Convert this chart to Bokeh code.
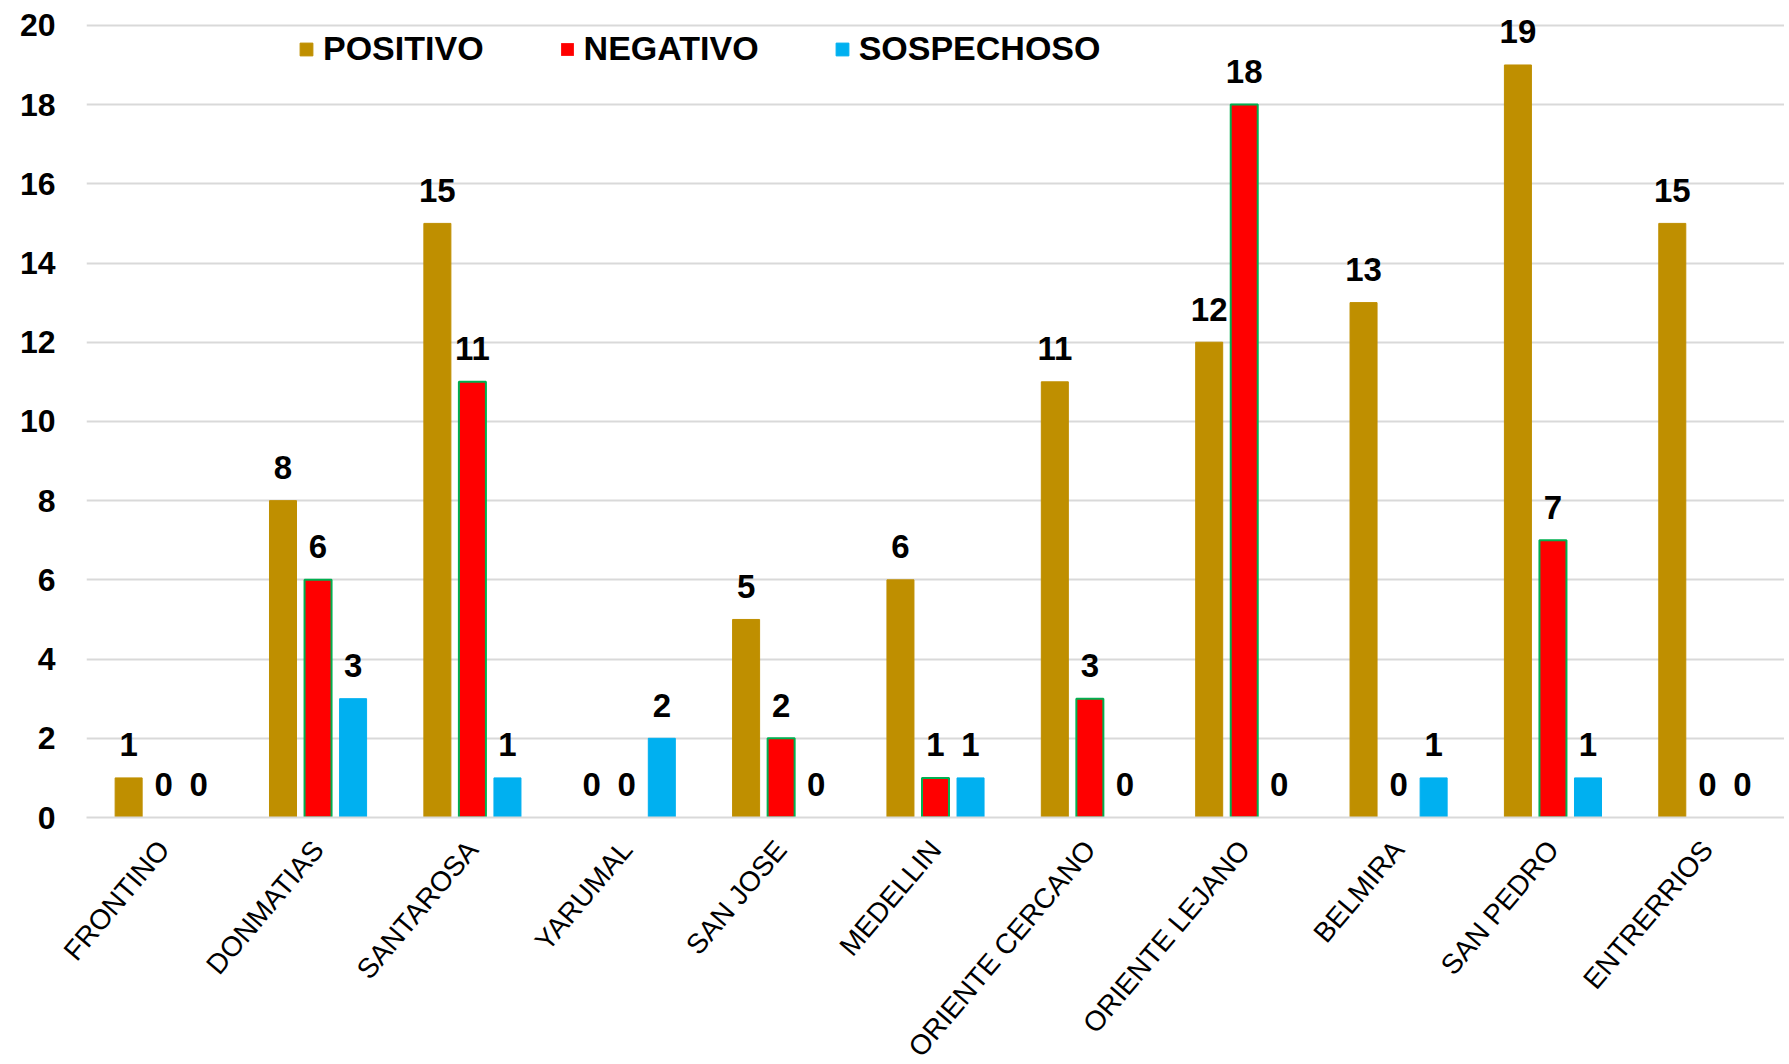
from bokeh.plotting import figure
from bokeh.models import (ColumnDataSource, FactorRange, Range1d, Legend, LegendItem,
                          SingleIntervalTicker)
from bokeh.transform import dodge
from bokeh.core.properties import value
from bokeh.embed import file_html
from bokeh.resources import INLINE

categories = ["FRONTINO", "DONMATIAS", "SANTAROSA", "YARUMAL", "SAN JOSE", "MEDELLIN",
              "ORIENTE CERCANO", "ORIENTE LEJANO", "BELMIRA", "SAN PEDRO", "ENTRERRIOS"]
positivo = [1, 8, 15, 0, 5, 6, 11, 12, 13, 19, 15]
negativo = [0, 6, 11, 0, 2, 1, 3, 18, 0, 7, 0]
sospechoso = [0, 3, 1, 2, 0, 1, 0, 0, 1, 1, 0]
series_names = ["POSITIVO", "NEGATIVO", "SOSPECHOSO"]

FONT = "Liberation Sans"
C_POS, C_NEG, C_NEG_LINE, C_SOS = "#BF8F00", "#FF0000", "#00B050", "#00B0F0"

source = ColumnDataSource(dict(
    cats=categories,
    positivo=positivo, negativo=negativo, sospechoso=sospechoso,
    pos_lbl=[str(v) for v in positivo],
    neg_lbl=[str(v) for v in negativo],
    sos_lbl=[str(v) for v in sospechoso],
    neg_line=[C_NEG_LINE if v > 0 else "rgba(0,0,0,0)" for v in negativo],
))

p = figure(x_range=FactorRange(*categories), y_range=Range1d(0, 20.35),
           frame_width=1698, frame_height=806, output_backend="svg", toolbar_location=None,
           min_border_left=86, min_border_right=0, min_border_top=11, min_border_bottom=242)

OFF = 0.227
W = 0.175
r1 = p.vbar(x=dodge("cats", -OFF, range=p.x_range), top="positivo", width=W, source=source,
            fill_color=C_POS, line_color=C_POS, line_width=1)
r2 = p.vbar(x=dodge("cats", 0, range=p.x_range), top="negativo", width=W, source=source,
            fill_color=C_NEG, line_color="neg_line", line_width=2)
r3 = p.vbar(x=dodge("cats", OFF, range=p.x_range), top="sospechoso", width=W, source=source,
            fill_color=C_SOS, line_color=C_SOS, line_width=1)

for off, col, lbl in [(-OFF, "positivo", "pos_lbl"), (0, "negativo", "neg_lbl"), (OFF, "sospechoso", "sos_lbl")]:
    p.text(x=dodge("cats", off, range=p.x_range), y=col, text=lbl, source=source,
           text_align="center", text_baseline="alphabetic", y_offset=-33,
           text_font=value(FONT), text_font_style="bold", text_font_size="33px",
           text_color="black")

legend = Legend(items=[LegendItem(label=series_names[0], renderers=[r1]),
                       LegendItem(label=series_names[1], renderers=[r2]),
                       LegendItem(label=series_names[2], renderers=[r3])],
                orientation="horizontal", location=(212, 749),
                glyph_width=16, glyph_height=16, label_standoff=9, spacing=75,
                padding=0, margin=0, border_line_alpha=0, background_fill_alpha=0,
                label_text_font=FONT, label_text_font_style="bold",
                label_text_font_size="34px", label_text_color="black")
p.add_layout(legend, "center")

p.yaxis.ticker = SingleIntervalTicker(interval=2)
p.yaxis.axis_line_color = None
p.yaxis.major_tick_line_color = None
p.yaxis.minor_tick_line_color = None
p.yaxis.major_tick_out = 0
p.yaxis.major_label_standoff = 27
p.yaxis.major_label_text_font = FONT
p.yaxis.major_label_text_font_style = "bold"
p.yaxis.major_label_text_font_size = "32px"
p.yaxis.major_label_text_color = "black"

p.xaxis.axis_line_color = "#D9D9D9"
p.xaxis.axis_line_width = 2
p.xaxis.major_tick_line_color = None
p.xaxis.minor_tick_line_color = None
p.xaxis.major_tick_out = 0
p.xaxis.major_label_orientation = 0.87
p.xaxis.major_label_standoff = 27
p.xaxis.major_label_text_font = FONT
p.xaxis.major_label_text_font_style = "normal"
p.xaxis.major_label_text_font_size = "28px"
p.xaxis.major_label_text_color = "black"

p.xgrid.grid_line_color = None
p.ygrid.grid_line_color = "#D9D9D9"
p.ygrid.grid_line_width = 2
p.outline_line_color = None

open("out.html", "w").write(file_html(p, INLINE))
